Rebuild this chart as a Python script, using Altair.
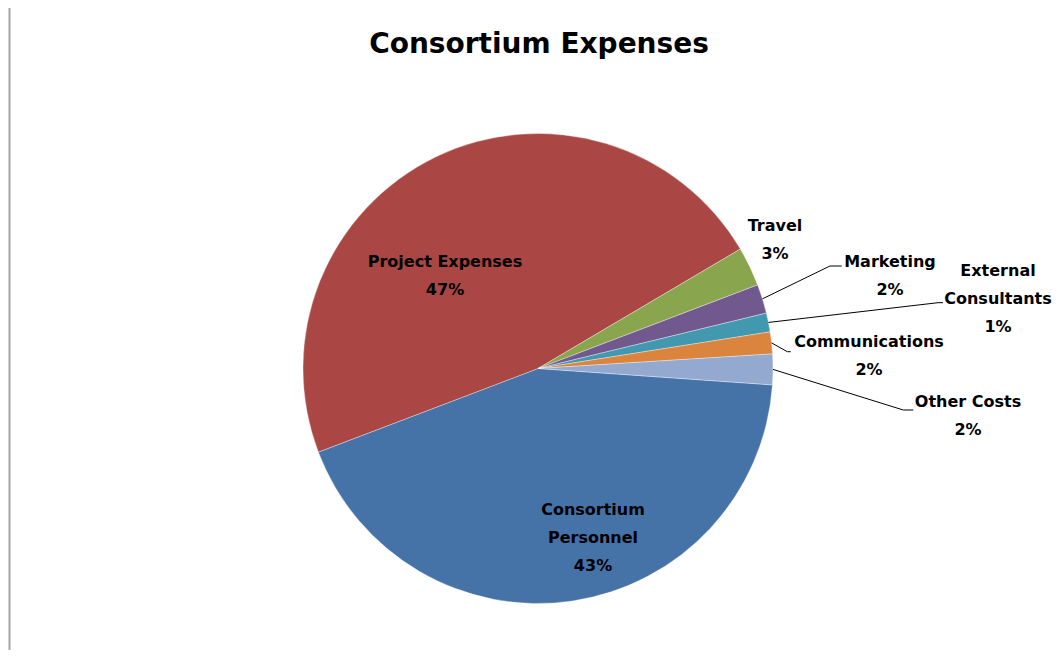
import math
import altair as alt
import pandas as pd

# ---- data ----
categories = ["Consortium Personnel", "Project Expenses", "Travel", "Marketing",
              "External Consultants", "Communications", "Other Costs"]
values = [43.1, 47.3, 2.7, 2.0, 1.3, 1.5, 2.1]
colors = ["#4572A7", "#AA4643", "#89A54E", "#71588F", "#4198AF", "#DB843D", "#93A9CF"]
chart_title = "Consortium Expenses"

# ---- label layout (offsets in px from the pie centre; first text line) ----
label_lines = ["Consortium\nPersonnel", "Project Expenses", "Travel", "Marketing",
               "External\nConsultants", "Communications", "Other Costs"]
label_dx = [55, -93, 237, 352, 460, 331, 430]
label_dy = [141.5, -106.8, -142.5, -106.8, -97.8, -26.8, 33.2]
has_leader = [False, False, False, True, True, True, True]
elbow_dx = [0, 0, 0, 292, 400, 249.3, 365.3]
elbow_dy = [0, 0, 0, -102.5, -65.8, -16.8, 41.5]
tick_len = [0, 0, 0, 11.7, 5, 3.4, 10]

CX, CY, R = 530, 360.5, 235
START = math.radians(94.0)
FONT = "DejaVu Sans"

df = pd.DataFrame({
    "category": categories, "value": values, "order": list(range(len(categories))),
    "lines": label_lines, "label_dx": label_dx, "label_dy": label_dy,
    "has_leader": has_leader, "elbow_dx": elbow_dx, "elbow_dy": elbow_dy,
    "tick": tick_len,
})

base = alt.Chart(df)

pie = base.mark_arc(outerRadius=R, stroke="white", strokeWidth=0.35).encode(
    theta=alt.Theta("value:Q", stack=True,
                    scale=alt.Scale(range=[START, START + 2 * math.pi])),
    color=alt.Color("category:N", scale=alt.Scale(domain=categories, range=colors),
                    legend=None),
    order=alt.Order("order:Q"),
    x=alt.value(CX), y=alt.value(CY),
)

calc = base.transform_joinaggregate(total="sum(value)").transform_window(
    cum="sum(value)", sort=[alt.SortField("order")]
).transform_calculate(
    mid=f"{START} + 2 * PI * (datum.cum - datum.value / 2) / datum.total",
    ex=f"{CX} + {R} * sin(datum.mid)",
    ey=f"{CY} - {R} * cos(datum.mid)",
    bx=f"{CX} + datum.elbow_dx",
    by=f"{CY} + datum.elbow_dy",
    bx2=f"{CX} + datum.elbow_dx + datum.tick",
    pct="round(datum.value / datum.total * 100) + '%'",
    label="datum.lines + '\\n' + datum.pct",
    lx=f"{CX} + datum.label_dx",
    ly=f"{CY} + datum.label_dy",
)

leader_a = calc.transform_filter("datum.has_leader").mark_rule(
    color="#000000", strokeWidth=1).encode(
    x=alt.X("ex:Q", scale=None), y=alt.Y("ey:Q", scale=None),
    x2="bx:Q", y2="by:Q",
)
leader_b = calc.transform_filter("datum.has_leader").mark_rule(
    color="#000000", strokeWidth=1).encode(
    x=alt.X("bx:Q", scale=None), y=alt.Y("by:Q", scale=None),
    x2="bx2:Q", y2="by:Q",
)

labels = calc.mark_text(font=FONT, fontSize=16, fontWeight="bold", lineBreak="\n",
                        lineHeight=28, baseline="middle", align="center",
                        color="#000000").encode(
    x=alt.X("lx:Q", scale=None), y=alt.Y("ly:Q", scale=None), text="label:N",
)

title = alt.Chart(alt.Data(values=[{"t": chart_title}])).mark_text(
    font=FONT, fontSize=28, fontWeight="bold", color="#000000",
    align="center", baseline="alphabetic").encode(
    text="t:N", x=alt.value(531), y=alt.value(44.5),
)

border = alt.Chart(alt.Data(values=[{}])).mark_rule(
    color="#a6a6a6", strokeWidth=2).encode(
    x=alt.value(1.5), y=alt.value(-4), y2=alt.value(650),
)

chart = alt.layer(pie, leader_a, leader_b, labels, title, border).properties(
    width=1045, height=642,
    autosize=alt.AutoSizeParams(type="none"),
    padding=0,
    background="white",
).configure_view(stroke=None)

chart.save("out.html", embed_options={"renderer": "svg", "actions": False})
